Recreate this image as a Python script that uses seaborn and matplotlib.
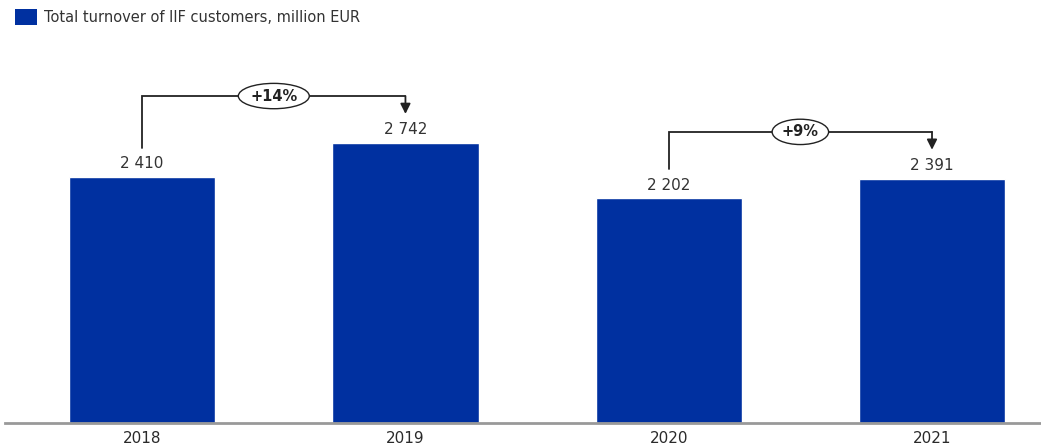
import matplotlib
matplotlib.use("Agg")
import matplotlib.pyplot as plt
import seaborn as sns
import pandas as pd
from matplotlib.patches import Patch

# Chart data
years = ["2018", "2019", "2020", "2021"]
turnover = [2410, 2742, 2202, 2391]
value_labels = ["2 410", "2 742", "2 202", "2 391"]
# (from index, to index, label)
changes = [(0, 1, "+14%"), (2, 3, "+9%")]
legend_label = "Total turnover of IIF customers, million EUR"

bar_color = "#0030a0"
text_color = "#333333"

sns.set_theme(style="white")
plt.rcParams["font.family"] = ["DejaVu Sans"]

df = pd.DataFrame({"year": years, "turnover": turnover})

fig = plt.figure(figsize=(10.41, 4.48), dpi=100)
ax = fig.add_axes([5 / 1041, 25 / 448, 1036 / 1041, 363 / 448])

sns.barplot(data=df, x="year", y="turnover", color=bar_color,
            width=0.555, saturation=1, ax=ax)

ax.set_xlim(-0.521, 3.414)
ax.set_ylim(0, 3555)
ax.set_xlabel("")
ax.set_ylabel("")
ax.set_yticks([])
for side in ["left", "right", "top"]:
    ax.spines[side].set_visible(False)
ax.spines["bottom"].set_color("#999999")
ax.spines["bottom"].set_linewidth(2)
ax.tick_params(axis="x", length=0, pad=6, labelsize=11, labelcolor="#2a2a2a")

# value labels above bars
for i, (v, lab) in enumerate(zip(turnover, value_labels)):
    ax.annotate(lab, (i, v), xytext=(0, 4), textcoords="offset points",
                ha="center", va="bottom", fontsize=11, color=text_color)

# growth brackets
leg_gap = 285    # gap between bar top and bracket leg, data units
top_gap = 460    # horizontal line above the taller bar
for a, b, lab in changes:
    y_top = max(turnover[a], turnover[b]) + top_gap
    ax.plot([a, a, b], [turnover[a] + leg_gap, y_top, y_top],
            color="#222222", lw=1.3, solid_joinstyle="miter", zorder=3)
    ax.annotate("", xy=(b, turnover[b] + leg_gap), xytext=(b, y_top),
                arrowprops=dict(arrowstyle="-|>,head_length=0.5,head_width=0.25",
                                color="#222222", lw=1.3, shrinkA=0, shrinkB=0))
    ax.text((a + b) / 2, y_top, lab, ha="center", va="center",
            fontsize=10.5, fontweight="bold", color="#222222", zorder=5,
            bbox=dict(boxstyle="ellipse,pad=0.1", fc="white", ec="#222222", lw=1))

handles = [Patch(facecolor=bar_color, edgecolor="none")]
fig.legend(handles, [legend_label], loc="upper left", bbox_to_anchor=(0.006, 1.0),
           frameon=False, fontsize=10.5, handlelength=1.5, handleheight=1.3,
           handletextpad=0.5, labelcolor=text_color, borderaxespad=0.2)

fig.savefig("out.png", dpi=100)
